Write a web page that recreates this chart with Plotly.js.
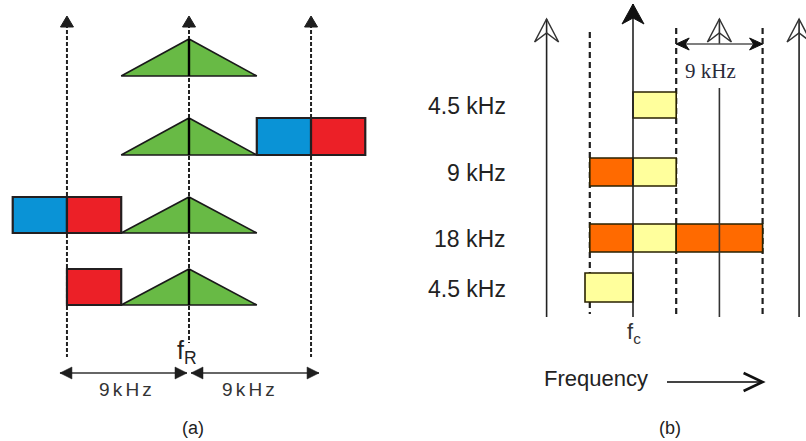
<!DOCTYPE html>
<html>
<head>
<meta charset="utf-8">
<script src="https://cdn.plot.ly/plotly-3.0.1.min.js"></script>
<style>html,body{margin:0;padding:0;background:#fff;}#chart{width:806px;height:441px;}</style>
</head>
<body>
<div id="chart"></div>
<script>
// ---------------- DATA (frequencies in kHz relative to the carrier) ----------------
// Panel (a): f_R centred, neighbouring carriers 9 kHz apart
const aCarriers   = [-9, 0, 9];
const aTriRows    = [0, 1, 2, 3];          // rows carrying the green (AM) spectrum
const aTriHalfBW  = 5;                     // half width of the green spectrum, kHz
const aBoxRow     = [1, 1, 2, 2, 3];
const aBoxFrom    = [5, 9, -13, -9, -9];
const aBoxTo      = [9, 13, -9, -5, -5];
const aBoxKind    = ['blue', 'red', 'blue', 'red', 'red'];
const aSpacingLabel = '9kHz';
const aCentreLabel  = 'f<sub>R</sub>';

// Panel (b): f_c centred
const bSolid      = [-9, 0, 9, 17.3];      // channel carriers (arrows)
const bDashed     = [-4.5, 4.5, 13.5];     // channel edges
const bRowLabels  = ['4.5 kHz', '9 kHz', '18 kHz', '4.5 kHz'];
const bBoxRow     = [0, 1, 1, 2, 2, 2, 3];
const bBoxFrom    = [0, -4.5, 0, -4.5, 0, 4.5, -5];
const bBoxTo      = [4.5, 0, 4.5, 0, 4.5, 13.5, 0];
const bBoxKind    = ['Y', 'O', 'Y', 'O', 'Y', 'O', 'Y'];
const bSpan       = [4.5, 13.5];
const bSpanLabel  = '9 kHz';
const bCentreLabel = 'f<sub>c</sub>';
const bAxisLabel  = 'Frequency';
const panelLabels = ['(a)', '(b)'];

// ---------------- LAYOUT / STYLE ----------------
const W = 806, H = 441;
const scaleA = 13.56, originA = 189;   // px per kHz, px position of f_R
const scaleB = 9.6,   originB = 633;   // px per kHz, px position of f_c
const dA = p => p / scaleA, dB = p => p / scaleB;
const pA = p => (p - originA) / scaleA, pB = p => (p - originB) / scaleB;

const aRowTop = [39, 118, 197, 269], aRowBot = [76, 155, 233, 305];
const bRowTop = [92, 158, 224, 273], bRowBot = [118, 186, 252, 302];
const aColors = {blue: '#0A93D6', red: '#EC2027'};
const bColors = {Y: '#FFFF9C', O: '#FF6A00'};
const green = '#68BA45';
const ink = '#1e1e1e';
const sans = 'Liberation Sans, Arial, sans-serif';

const shapes = [];
const ann = [];
const S = (o) => shapes.push(Object.assign({layer: 'above'}, o));

// ===== Panel (a) =====
aCarriers.forEach(c => {
  S({type: 'line', xref: 'x', yref: 'y', x0: c, x1: c, y0: 24, y1: c === 0 ? 343 : 357,
     line: {color: '#222', width: 2, dash: '4px,2px'}});
  S({type: 'path', xref: 'x', yref: 'y',
     path: `M ${c - dA(6.5)},27 L ${c},16 L ${c + dA(6.5)},27 Z`,
     fillcolor: ink, line: {color: ink, width: 1}});
});
aTriRows.forEach(r => {
  S({type: 'path', xref: 'x', yref: 'y',
     path: `M ${-aTriHalfBW},${aRowBot[r]} L 0,${aRowTop[r]} L ${aTriHalfBW},${aRowBot[r]} Z`,
     fillcolor: green, line: {color: '#1a1a1a', width: 1.6}});
  S({type: 'line', xref: 'x', yref: 'y', x0: 0, x1: 0, y0: aRowTop[r], y1: aRowBot[r],
     line: {color: '#000', width: 2.4}});
});
aBoxFrom.forEach((f, i) => {
  const r = aBoxRow[i];
  S({type: 'rect', xref: 'x', yref: 'y', x0: f, x1: aBoxTo[i], y0: aRowTop[r], y1: aRowBot[r],
     fillcolor: aColors[aBoxKind[i]], line: {color: '#231f20', width: 2.2}});
});
// spacing dimension arrows
const aDimY = 373;
function headA(tip, dir) {   // dir = +1 pointing right, -1 pointing left
  const b = tip - dir * dA(12);
  return {type: 'path', xref: 'x', yref: 'y',
    path: `M ${tip},${aDimY} L ${b},${aDimY - 6} L ${b},${aDimY + 6} Z`,
    fillcolor: ink, line: {color: ink, width: 0.5}};
}
[[aCarriers[0] - dA(7), aCarriers[1] - dA(2)], [aCarriers[1] + dA(2), aCarriers[2] + dA(8)]].forEach(([l, r], i) => {
  S({type: 'line', xref: 'x', yref: 'y', x0: l, x1: r, y0: aDimY, y1: aDimY, line: {color: '#333', width: 1.3}});
  S(headA(l, -1)); S(headA(r, 1));
  ann.push({xref: 'x', yref: 'y', x: (aCarriers[i] + aCarriers[i + 1]) / 2 - dA(2), y: 389,
    text: aSpacingLabel.split('').join('\u2006'), showarrow: false,
    font: {family: sans, size: 19, color: '#333'}});
});
ann.push({xref: 'x', yref: 'y', x: -dA(2), y: 352, text: aCentreLabel, showarrow: false,
  font: {family: sans, size: 25, color: '#222'}});
ann.push({xref: 'x', yref: 'y', x: pA(193), y: 428, text: panelLabels[0], showarrow: false,
  font: {family: sans, size: 18, color: '#222'}});

// ===== Panel (b) =====
bDashed.forEach(d => {
  S({type: 'line', xref: 'x2', yref: 'y', x0: d, x1: d, y0: d < 0 ? 32 : 28, y1: 314,
     line: {color: ink, width: 2.2, dash: '6px,4px'}});
});
bBoxFrom.forEach((f, i) => {
  const r = bBoxRow[i];
  S({type: 'rect', xref: 'x2', yref: 'y', x0: f, x1: bBoxTo[i], y0: bRowTop[r], y1: bRowBot[r],
     fillcolor: bColors[bBoxKind[i]], line: {color: '#2a2200', width: 1.6}});
});
const bDimY = 44;
bSolid.forEach(s => {
  const tip = s === 0 ? 4 : 19;
  if (s > bSpan[0] && s < bSpan[1]) {
    S({type: 'line', xref: 'x2', yref: 'y', x0: s, x1: s, y0: tip, y1: bDimY, line: {color: '#333', width: 1.6}});
    S({type: 'line', xref: 'x2', yref: 'y', x0: s, x1: s, y0: 88, y1: 317, line: {color: '#333', width: 1.6}});
  } else {
    S({type: 'line', xref: 'x2', yref: 'y', x0: s, x1: s, y0: tip, y1: 317, line: {color: '#222', width: 1.6}});
  }
  if (s === 0) {
    S({type: 'path', xref: 'x2', yref: 'y',
       path: `M ${s},${tip} L ${s - dB(11)},${tip + 20} L ${s},${tip + 14} L ${s + dB(11)},${tip + 20} Z`,
       fillcolor: '#111', line: {color: '#111', width: 1}});
  } else {
    S({type: 'path', xref: 'x2', yref: 'y',
       path: `M ${s},${tip} L ${s - dB(12)},${tip + 23} L ${s},${tip + 14} L ${s + dB(12)},${tip + 23} Z`,
       fillcolor: 'rgba(0,0,0,0)', line: {color: '#333', width: 1.5}});
  }
});
// 9 kHz span arrow
S({type: 'line', xref: 'x2', yref: 'y', x0: bSpan[0], x1: bSpan[1], y0: bDimY, y1: bDimY, line: {color: '#555', width: 1.6}});
[[bSpan[0], 1], [bSpan[1], -1]].forEach(([tip, dir]) => {
  const b = tip + dir * dB(13), n = tip + dir * dB(9);
  S({type: 'path', xref: 'x2', yref: 'y',
     path: `M ${tip},${bDimY} L ${b},${bDimY - 6} L ${n},${bDimY} L ${b},${bDimY + 6} Z`,
     fillcolor: '#111', line: {color: '#111', width: 1}});
});
ann.push({xref: 'x2', yref: 'y', x: bSpan[0] + dB(7), y: 71, xanchor: 'left', text: bSpanLabel, showarrow: false,
  font: {family: 'Liberation Serif, Times New Roman, serif', size: 21, color: '#2a2a3a'}});
bRowLabels.forEach((t, r) => {
  ann.push({xref: 'x2', yref: 'y', x: bSolid[0] - dB(39), y: (bRowTop[r] + bRowBot[r]) / 2 + 1, xanchor: 'right',
    text: t, showarrow: false, font: {family: sans, size: 23, color: '#222'}});
});
ann.push({xref: 'x2', yref: 'y', x: dB(1), y: 333, text: bCentreLabel, showarrow: false,
  font: {family: sans, size: 22, color: '#333'}});
ann.push({xref: 'x2', yref: 'y', x: pB(596), y: 378, text: bAxisLabel, showarrow: false,
  font: {family: sans, size: 22, color: '#222'}});
S({type: 'line', xref: 'x2', yref: 'y', x0: pB(667), x1: bSpan[1] - dB(1), y0: 382, y1: 382, line: {color: '#444', width: 2}});
S({type: 'path', xref: 'x2', yref: 'y',
   path: `M ${bSpan[1] - dB(19)},373 L ${bSpan[1]},382 L ${bSpan[1] - dB(19)},391`,
   line: {color: '#111', width: 2.6}});
ann.push({xref: 'x2', yref: 'y', x: pB(670), y: 428, text: panelLabels[1], showarrow: false,
  font: {family: sans, size: 18, color: '#222'}});

const data = [
  {type: 'scatter', x: aCarriers, y: aCarriers.map(() => null), xaxis: 'x', yaxis: 'y', hoverinfo: 'skip', showlegend: false},
  {type: 'scatter', x: bSolid, y: bSolid.map(() => null), xaxis: 'x2', yaxis: 'y', hoverinfo: 'skip', showlegend: false}
];
const layout = {
  width: W, height: H, margin: {l: 0, r: 0, t: 0, b: 0},
  paper_bgcolor: '#fff', plot_bgcolor: '#fff', showlegend: false,
  xaxis: {range: [pA(0), pA(W)], visible: false, fixedrange: true},
  xaxis2: {range: [pB(0), pB(W)], visible: false, overlaying: 'x', anchor: 'y', fixedrange: true},
  yaxis: {range: [H, 0], visible: false, fixedrange: true},
  shapes: shapes, annotations: ann
};
Plotly.newPlot('chart', data, layout, {displayModeBar: false, staticPlot: true});
</script>
</body>
</html>
